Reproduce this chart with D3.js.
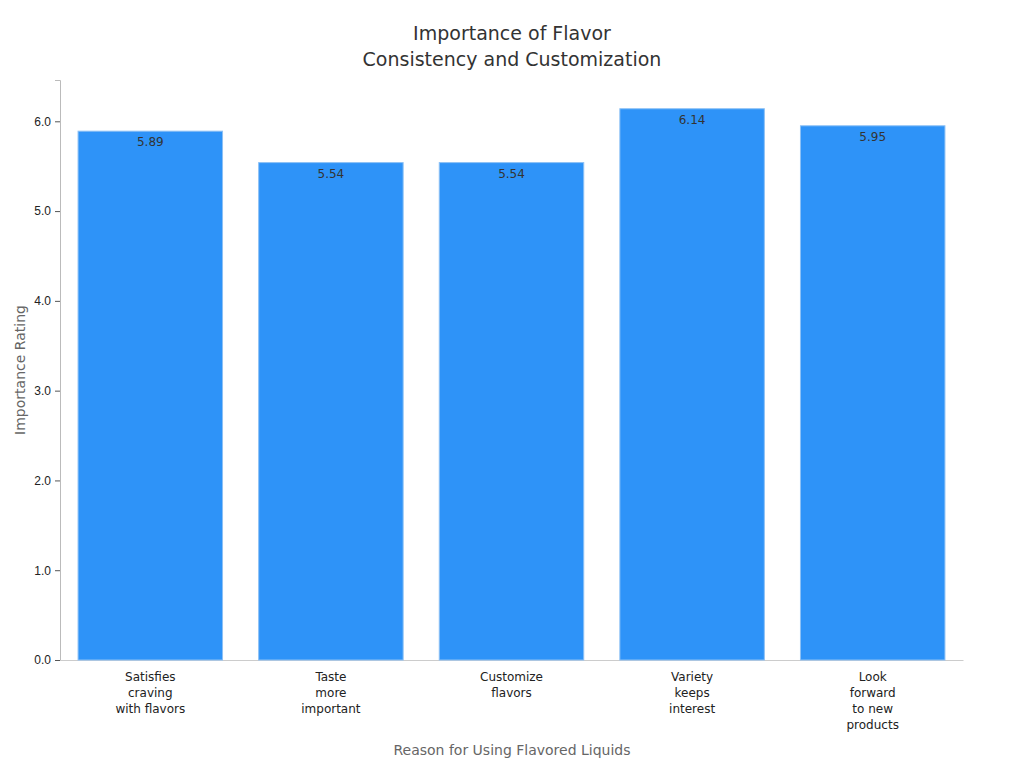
<!DOCTYPE html>
<html lang="en">
<head>
<meta charset="UTF-8" />
<title>Importance of Flavor</title>
<script src="https://d3js.org/d3.v7.min.js"></script>
<style>
  body { margin: 0; background: #fff; font-family: 'DejaVu Sans', sans-serif; }
  .tick text { font-size: 12px; fill: #222; }
</style>
</head>
<body>
<svg width="1024" height="768"></svg>
<script>
const categories = [
  ["Satisfies", "craving", "with flavors"],
  ["Taste", "more", "important"],
  ["Customize", "flavors"],
  ["Variety", "keeps", "interest"],
  ["Look", "forward", "to new", "products"]
];
const values = [5.89, 5.54, 5.54, 6.14, 5.95];
const yTicks = [0, 1, 2, 3, 4, 5, 6];

const svg = d3.select("svg");
const m = { left: 60, right: 963, top: 80, bottom: 660 };

const x = d3.scaleBand().domain(d3.range(values.length))
  .range([m.left, m.right]).paddingInner(0.2).paddingOuter(0.1);
const y = d3.scaleLinear().domain([0, 6.46]).range([m.bottom, m.top]);

svg.append("g").attr("transform", `translate(${m.left},0)`)
  .call(d3.axisLeft(y).tickValues(yTicks).tickSize(5).tickPadding(4))
  .call(g => g.select(".domain").attr("stroke", "#bbb"))
  .call(g => g.selectAll(".tick line").attr("stroke", "#555"));

svg.append("g").attr("transform", `translate(0,${m.bottom})`)
  .call(d3.axisBottom(x).tickSize(0).tickFormat(""))
  .call(g => g.select(".domain").attr("stroke", "#ccc"));

svg.selectAll("rect.bar").data(values).enter().append("rect")
  .attr("class", "bar")
  .attr("x", (d, i) => x(i))
  .attr("width", x.bandwidth())
  .attr("y", d => y(d))
  .attr("height", d => y(0) - y(d))
  .attr("fill", "#2e93f8")
  .attr("stroke", "#8cc0f5")
  .attr("stroke-width", 1);

svg.selectAll("text.val").data(values).enter().append("text")
  .attr("x", (d, i) => x(i) + x.bandwidth() / 2)
  .attr("y", d => y(d) + 15)
  .attr("text-anchor", "middle")
  .attr("font-size", 12)
  .attr("fill", "#333")
  .text(d => d.toFixed(2));

categories.forEach((lines, i) => {
  const t = svg.append("text")
    .attr("x", x(i) + x.bandwidth() / 2)
    .attr("y", 681)
    .attr("text-anchor", "middle")
    .attr("font-size", 12)
    .attr("fill", "#222");
  lines.forEach((l, j) => t.append("tspan")
    .attr("x", x(i) + x.bandwidth() / 2).attr("dy", j ? 16 : 0).text(l));
});

svg.append("text").attr("x", 512).attr("y", 40).attr("text-anchor", "middle")
  .attr("font-size", 19).attr("fill", "#333").text("Importance of Flavor");
svg.append("text").attr("x", 512).attr("y", 66).attr("text-anchor", "middle")
  .attr("font-size", 19).attr("fill", "#333").text("Consistency and Customization");

svg.append("text").attr("x", 512).attr("y", 755).attr("text-anchor", "middle")
  .attr("font-size", 14).attr("fill", "#666").text("Reason for Using Flavored Liquids");
svg.append("text").attr("transform", "translate(25,370) rotate(-90)")
  .attr("text-anchor", "middle").attr("font-size", 14).attr("fill", "#666")
  .text("Importance Rating");
</script>
</body>
</html>
